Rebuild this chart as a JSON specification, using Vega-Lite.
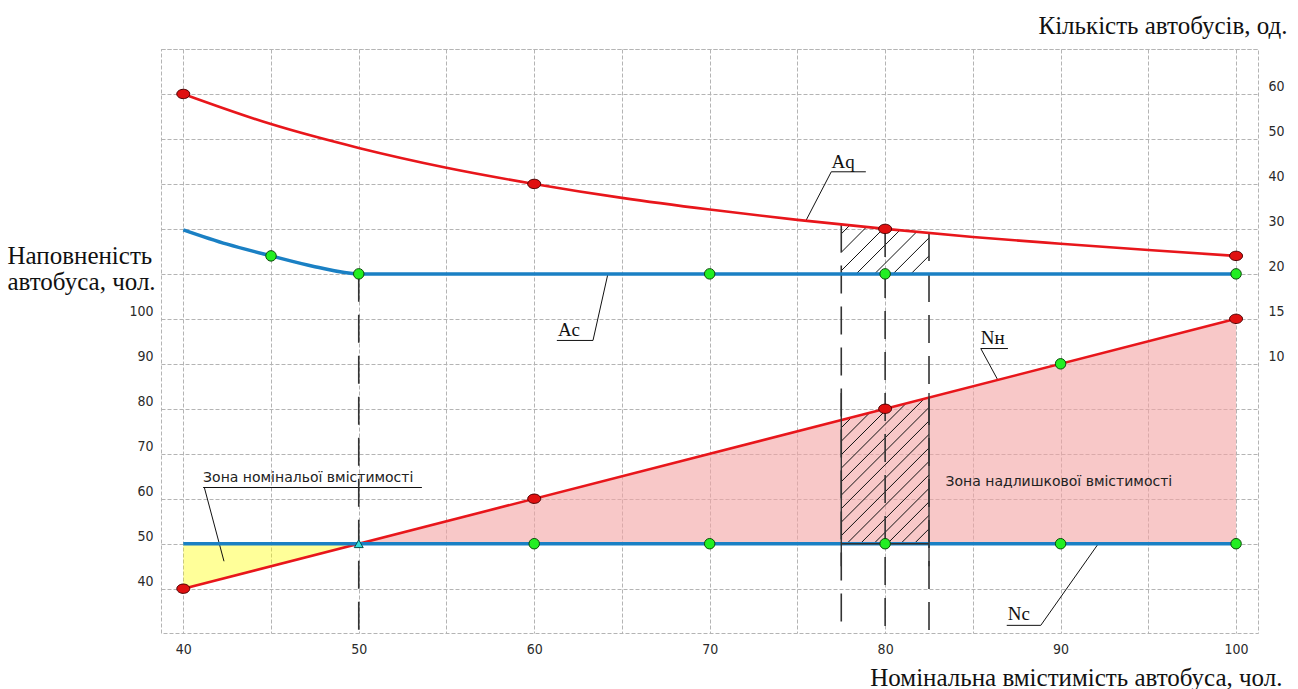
{
  "$schema": "https://vega.github.io/schema/vega-lite/v6.json",
  "width": 1097,
  "height": 584,
  "autosize": {"type": "none"},
  "padding": {"left": 161, "top": 49, "right": 40, "bottom": 56},
  "background": "white",
  "config": {
    "view": {"stroke": "#b4b4b4", "strokeDash": [4, 2], "strokeWidth": 1},
    "axis": {
      "domain": false, "ticks": false,
      "gridColor": "#b4b4b4", "gridDash": [4, 2], "gridWidth": 1,
      "labelFont": "Liberation Sans Narrow, DejaVu Sans Condensed, sans-serif",
      "labelFontSize": 14, "labelColor": "#2a2a2a",
      "titleFont": "Liberation Serif", "titleFontSize": 25, "titleFontWeight": "normal", "titleColor": "#111"
    }
  },
  "datasets": {
    "pink": [{"x": 50, "y": 50, "y2": 50}, {"x": 100, "y": 100, "y2": 50}],
    "yellow": [{"x": 40, "y": 40, "y2": 50}, {"x": 50, "y": 50, "y2": 50}],
    "segs": [
      {"x": 77.5, "y": 75.8, "x2": 78.09, "y2": 78.09},
      {"x": 77.5, "y": 72.8, "x2": 79.12, "y2": 79.12},
      {"x": 77.5, "y": 69.8, "x2": 80.16, "y2": 80.16},
      {"x": 77.5, "y": 66.8, "x2": 81.19, "y2": 81.19},
      {"x": 77.5, "y": 63.8, "x2": 82.22, "y2": 82.22},
      {"x": 77.5, "y": 60.8, "x2": 82.5, "y2": 80.3},
      {"x": 77.5, "y": 57.8, "x2": 82.5, "y2": 77.3},
      {"x": 77.5, "y": 54.8, "x2": 82.5, "y2": 74.3},
      {"x": 77.5, "y": 51.8, "x2": 82.5, "y2": 71.3},
      {"x": 77.81, "y": 50, "x2": 82.5, "y2": 68.3},
      {"x": 78.58, "y": 50, "x2": 82.5, "y2": 65.3},
      {"x": 79.35, "y": 50, "x2": 82.5, "y2": 62.3},
      {"x": 80.12, "y": 50, "x2": 82.5, "y2": 59.3},
      {"x": 80.88, "y": 50, "x2": 82.5, "y2": 56.3},
      {"x": 81.65, "y": 50, "x2": 82.5, "y2": 53.3},
      {"x": 77.5, "y": 118.9, "x2": 77.98, "y2": 120.79},
      {"x": 77.5, "y": 114.8, "x2": 78.94, "y2": 120.43},
      {"x": 77.5, "y": 110.7, "x2": 79.9, "y2": 120.07},
      {"x": 78.35, "y": 110, "x2": 80.84, "y2": 119.72},
      {"x": 79.4, "y": 110, "x2": 81.8, "y2": 119.35},
      {"x": 80.45, "y": 110, "x2": 82.5, "y2": 118.0},
      {"x": 81.47, "y": 110, "x2": 82.5, "y2": 114.0},
      {"x": 76.93, "y": 132.7, "x2": 78.9, "y2": 132.7},
      {"x": 76.93, "y": 132.7, "x2": 75.48, "y2": 121.8},
      {"x": 61.29, "y": 95.2, "x2": 63.35, "y2": 95.2},
      {"x": 63.35, "y": 95.2, "x2": 64.2, "y2": 110},
      {"x": 85.45, "y": 93.4, "x2": 87.0, "y2": 93.4},
      {"x": 85.45, "y": 93.4, "x2": 86.42, "y2": 86.42},
      {"x": 86.93, "y": 31.85, "x2": 88.87, "y2": 31.85},
      {"x": 88.87, "y": 31.85, "x2": 92.15, "y2": 50},
      {"x": 41.13, "y": 62.5, "x2": 53.6, "y2": 62.5},
      {"x": 41.2, "y": 62.5, "x2": 42.32, "y2": 46.1}
    ],
    "vdash": [
      {"x": 50, "y": 110, "y2": 30.15},
      {"x": 77.5, "y": 120.97, "y2": 30.15},
      {"x": 80, "y": 120, "y2": 30.15},
      {"x": 82.5, "y": 119.09, "y2": 30.15}
    ],
    "boxes": [
      {"x": 77.5, "y": 83.5, "x2": 77.5, "y2": 45},
      {"x": 82.5, "y": 83.5, "x2": 82.5, "y2": 45},
      {"x": 77.5, "y": 50, "x2": 82.5, "y2": 50}
    ],
    "red": [
      {"s": "Aq", "x": 40, "y": 150}, {"s": "Aq", "x": 45, "y": 143.3}, {"s": "Aq", "x": 50, "y": 138},
      {"s": "Aq", "x": 55, "y": 133.6}, {"s": "Aq", "x": 60, "y": 130}, {"s": "Aq", "x": 65, "y": 126.9},
      {"s": "Aq", "x": 70, "y": 124.3}, {"s": "Aq", "x": 75, "y": 122}, {"s": "Aq", "x": 80, "y": 120},
      {"s": "Aq", "x": 85, "y": 118.2}, {"s": "Aq", "x": 90, "y": 116.7}, {"s": "Aq", "x": 95, "y": 115.3},
      {"s": "Aq", "x": 100, "y": 114},
      {"s": "Nн", "x": 40, "y": 40}, {"s": "Nн", "x": 100, "y": 100}
    ],
    "blue": [
      {"s": "Ac", "x": 40, "y": 119.8}, {"s": "Ac", "x": 42.5, "y": 116.6}, {"s": "Ac", "x": 45, "y": 114},
      {"s": "Ac", "x": 47.5, "y": 111.6}, {"s": "Ac", "x": 50, "y": 110}, {"s": "Ac", "x": 100, "y": 110},
      {"s": "Nc", "x": 40, "y": 50}, {"s": "Nc", "x": 100, "y": 50}
    ],
    "redpts": [
      {"x": 40, "y": 150}, {"x": 60, "y": 130}, {"x": 80, "y": 120}, {"x": 100, "y": 114},
      {"x": 40, "y": 40}, {"x": 60, "y": 60}, {"x": 80, "y": 80}, {"x": 100, "y": 100}
    ],
    "greenpts": [
      {"x": 45, "y": 114}, {"x": 50, "y": 110}, {"x": 70, "y": 110}, {"x": 80, "y": 110}, {"x": 100, "y": 110},
      {"x": 60, "y": 50}, {"x": 70, "y": 50}, {"x": 80, "y": 50}, {"x": 90, "y": 50}, {"x": 100, "y": 50},
      {"x": 90, "y": 90}
    ],
    "tri": [{"x": 50, "y": 50}],
    "serif": [
      {"x": 76.95, "y": 133.6, "t": "Aq"},
      {"x": 61.35, "y": 96.1, "t": "Ac"},
      {"x": 85.45, "y": 94.4, "t": "Nн"},
      {"x": 86.99, "y": 33.1, "t": "Nc"}
    ],
    "zones": [
      {"x": 41.13, "y": 63.8, "t": "Зона номінальої вмістимості"},
      {"x": 83.44, "y": 62.9, "t": "Зона надлишкової вмістимості"}
    ]
  },
  "encoding": {
    "x": {"field": "x", "type": "quantitative", "scale": {"domain": [38.73, 101.25], "nice": false, "zero": false},
      "axis": {"values": [40, 45, 50, 55, 60, 65, 70, 75, 80, 85, 90, 95, 100], "grid": true,
        "labelExpr": "datum.value % 10 == 0 ? datum.label : ''", "labelPadding": 9,
        "title": "Номінальна вмістимість автобуса, чол.", "titleX": 1121, "titleY": 52,
        "titleAlign": "right", "titleBaseline": "alphabetic"}},
    "y": {"field": "y", "type": "quantitative", "scale": {"domain": [30.15, 160], "nice": false, "zero": false}, "axis": null}
  },
  "resolve": {"axis": {"y": "independent"}},
  "layer": [
    {
      "data": {"name": "pink"},
      "mark": {"type": "area", "color": "#f4a4a4", "opacity": 0.6},
      "encoding": {
        "y": {"field": "y", "type": "quantitative", "scale": {"domain": [30.15, 160], "nice": false, "zero": false},
          "axis": {"orient": "left", "values": [40, 50, 60, 70, 80, 90, 100, 110, 120, 130, 140, 150, 160], "grid": true,
            "labelExpr": "datum.value <= 100 ? datum.label : ''", "labelPadding": 8, "labelBaseline": "bottom",
            "title": ["Наповненість", "автобуса, чол."], "titleAngle": 0, "titleAlign": "left",
            "titleX": -154, "titleY": 214, "titleBaseline": "alphabetic", "titleLineHeight": 26}},
        "y2": {"field": "y2"}
      }
    },
    {
      "data": {"name": "yellow"},
      "mark": {"type": "area", "color": "#ffff00", "opacity": 0.4},
      "encoding": {"y2": {"field": "y2"}}
    },
    {
      "data": {"name": "segs"},
      "mark": {"type": "rule", "color": "#111", "strokeWidth": 1},
      "encoding": {"x2": {"field": "x2"}, "y2": {"field": "y2"}}
    },
    {
      "data": {"name": "vdash"},
      "mark": {"type": "rule", "color": "#333", "strokeWidth": 1.6, "strokeDash": [28, 13]},
      "encoding": {"y2": {"field": "y2"}}
    },
    {
      "data": {"name": "red"},
      "mark": {"type": "line", "color": "#e8161b", "strokeWidth": 2.6, "interpolate": "monotone"},
      "encoding": {"detail": {"field": "s"}}
    },
    {
      "data": {"name": "blue"},
      "mark": {"type": "line", "color": "#1a80c4", "strokeWidth": 3.5, "interpolate": "monotone"},
      "encoding": {"detail": {"field": "s"}}
    },
    {
      "data": {"name": "boxes"},
      "mark": {"type": "rule", "color": "#333", "strokeWidth": 1.4},
      "encoding": {"x2": {"field": "x2"}, "y2": {"field": "y2"}}
    },
    {
      "data": {"name": "redpts"},
      "mark": {"type": "point", "shape": "M-1,0A1,0.72,0,1,1,1,0A1,0.72,0,1,1,-1,0Z", "size": 169, "filled": true, "fill": "#e01010", "stroke": "#4a0000", "strokeWidth": 1, "opacity": 1},
      "encoding": {
        "y": {"field": "y", "type": "quantitative", "scale": {"domain": [30.15, 160], "nice": false, "zero": false},
          "axis": {"orient": "right", "values": [90, 100, 110, 120, 130, 140, 150], "grid": false,
            "labelExpr": "datum.value == 90 ? '10' : datum.value == 100 ? '15' : format(datum.value - 90, 'd')",
            "labelPadding": 10, "labelBaseline": "bottom",
            "title": "Кількість автобусів, од.", "titleAngle": 0, "titleAlign": "right",
            "titleX": 29, "titleY": -16, "titleBaseline": "alphabetic"}}
      }
    },
    {
      "data": {"name": "greenpts"},
      "mark": {"type": "point", "shape": "circle", "size": 110, "filled": true, "fill": "#22ee22", "stroke": "#0a4a0a", "strokeWidth": 1, "opacity": 1}
    },
    {
      "data": {"name": "tri"},
      "mark": {"type": "point", "shape": "triangle-up", "size": 80, "filled": true, "fill": "#33dddd", "stroke": "#0a4a4a", "strokeWidth": 1, "opacity": 1}
    },
    {
      "data": {"name": "serif"},
      "mark": {"type": "text", "font": "Liberation Serif", "fontSize": 19, "align": "left", "baseline": "alphabetic", "color": "#111"},
      "encoding": {"text": {"field": "t"}}
    },
    {
      "data": {"name": "zones"},
      "mark": {"type": "text", "font": "DejaVu Sans", "fontSize": 14, "align": "left", "baseline": "alphabetic", "color": "#222"},
      "encoding": {"text": {"field": "t"}}
    }
  ]
}
